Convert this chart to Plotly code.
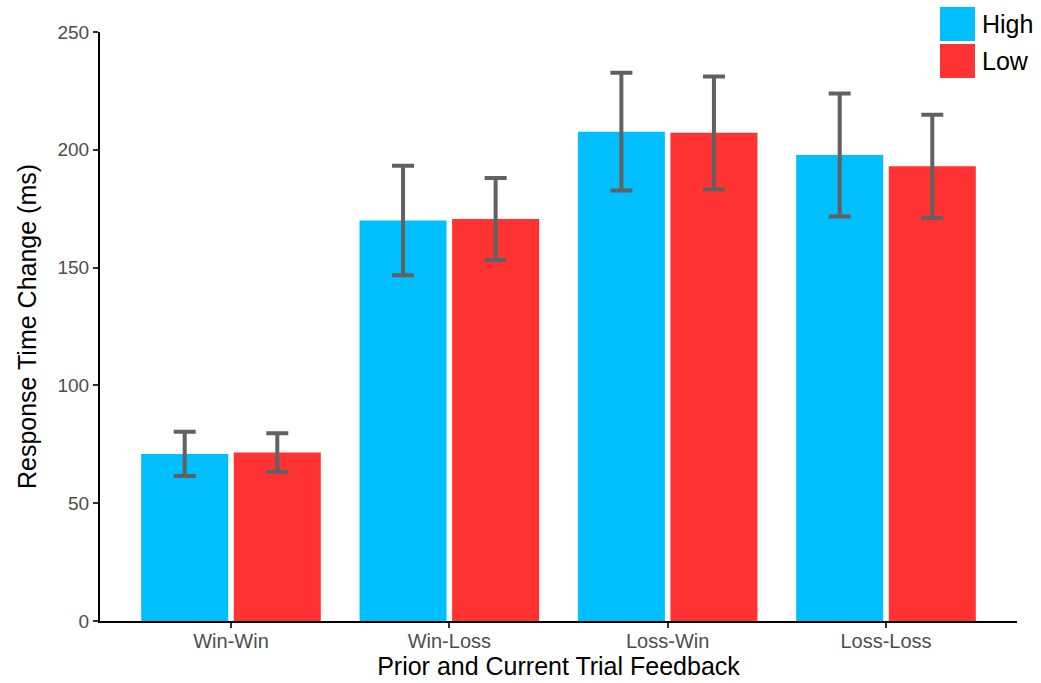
import plotly.graph_objects as go

# Feedback conditions (prior-current trial)
categories = ["Win-Win", "Win-Loss", "Loss-Win", "Loss-Loss"]
series_names = ["High", "Low"]

# Mean response time change (ms) and standard error per condition
high_means = [70.9, 170.0, 207.7, 197.8]
high_err = [9.4, 23.2, 25.0, 26.1]
low_means = [71.5, 170.6, 207.2, 193.0]
low_err = [8.2, 17.4, 23.9, 21.9]

y_ticks = [0, 50, 100, 150, 200, 250]

colors = ["#00BFFF", "#FF3333"]
err_color = "#616161"
font_family = "Liberation Sans, Arial, Helvetica, sans-serif"

fig = go.Figure()
for name, means, errs, col in zip(series_names, [high_means, low_means],
                                  [high_err, low_err], colors):
    fig.add_trace(go.Bar(
        x=categories, y=means, name=name,
        marker=dict(color=col, line=dict(width=0)),
        error_y=dict(type="data", array=errs, visible=True,
                     color=err_color, thickness=4, width=11),
        showlegend=False,
    ))

# Legend drawn as large colour keys with labels, top-right
plot_left, plot_w = 100, 917
plot_bottom, plot_h = 621, 589


def px_to_paper_x(px):
    return (px - plot_left) / plot_w


def px_to_paper_y(py):
    return (plot_bottom - py) / plot_h


for i, (name, col) in enumerate(zip(series_names, colors)):
    top = 7 + i * 37
    bottom = top + 34
    fig.add_shape(type="rect", xref="paper", yref="paper",
                  x0=px_to_paper_x(940), x1=px_to_paper_x(975),
                  y0=px_to_paper_y(bottom), y1=px_to_paper_y(top),
                  fillcolor=col, line=dict(width=0), layer="above")
    fig.add_annotation(xref="paper", yref="paper",
                       x=px_to_paper_x(980), y=px_to_paper_y((top + bottom) / 2),
                       text=name, showarrow=False, xanchor="left", yanchor="middle",
                       font=dict(size=25, color="black", family=font_family))

fig.update_layout(
    width=1041, height=683,
    margin=dict(l=100, r=24, t=32, b=62),
    paper_bgcolor="white", plot_bgcolor="white",
    barmode="group", bargap=0.152, bargroupgap=0.06,
    font=dict(family=font_family),
    xaxis=dict(
        range=[-0.6, 3.6], showgrid=False, zeroline=False, automargin=False,
        showline=True, linecolor="black", linewidth=2,
        ticks="outside", ticklen=5, tickwidth=1.5, tickcolor="#333333",
        ticklabelstandoff=-4,
        tickfont=dict(size=20, color="#4d4d4d"),
        title=dict(text="Prior and Current Trial Feedback",
                   font=dict(size=25, color="black"), standoff=4),
    ),
    yaxis=dict(
        range=[0, 250], tickvals=y_ticks, showgrid=False, zeroline=False,
        automargin=False,
        showline=True, linecolor="black", linewidth=2,
        ticks="outside", ticklen=5, tickwidth=1.5, tickcolor="#333333",
        tickfont=dict(size=19, color="#4d4d4d"),
        title=dict(text="Response Time Change (ms)",
                   font=dict(size=25, color="black"), standoff=14),
    ),
)

fig.write_html("out.html")
